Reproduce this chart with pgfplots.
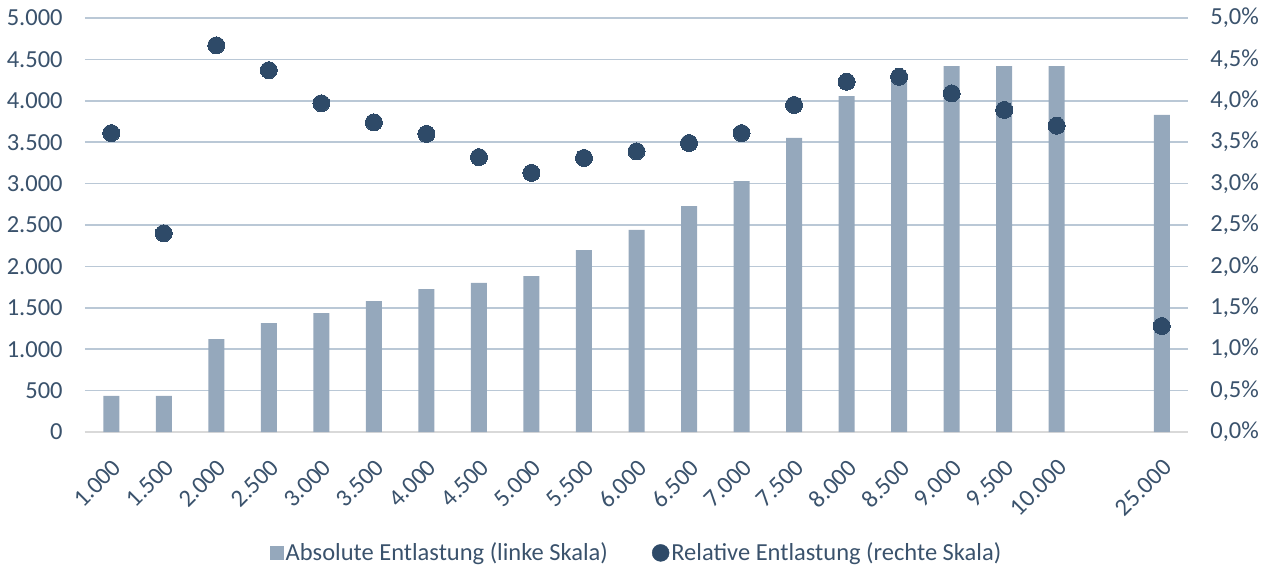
\documentclass[border=0pt]{standalone}
\usepackage{pgfplots}
\pgfplotsset{compat=1.18}
\usepackage{fontspec}
\setmainfont{Carlito}
\definecolor{barc}{RGB}{149,168,188}
\definecolor{dotc}{RGB}{46,74,104}
\definecolor{txtc}{RGB}{58,82,108}
\definecolor{gridc}{RGB}{186,200,214}
\definecolor{axc}{RGB}{217,217,217}
\begin{document}
\fontsize{24.5}{29}\selectfont
\begin{tikzpicture}
\useasboundingbox (-85pt,-139pt) rectangle (1186pt,432pt);
\pgfplotsset{
  every axis/.append style={
    font=\fontsize{24.5}{29}\selectfont,
    scale only axis, width=1103pt, height=414pt,
    at={(0,0)}, anchor=south west,
    xmin=-0.5, xmax=20.5,
    major tick length=0pt,
    tick label style={text=txtc},
  }
}
\begin{axis}[
  ymin=0, ymax=5000,
  ytick={0,500,...,5000},
  yticklabels={0,500,1.000,1.500,2.000,2.500,3.000,3.500,4.000,4.500,5.000},
  yticklabel style={xshift=-14pt},
  xtick={0,...,18,20},
  xticklabels={1.000,1.500,2.000,2.500,3.000,3.500,4.000,4.500,5.000,5.500,6.000,6.500,7.000,7.500,8.000,8.500,9.000,9.500,10.000,25.000},
  xticklabel style={rotate=45, anchor=north east, xshift=-10pt, yshift=-10pt},
  ymajorgrids, grid style={gridc, line width=1.6pt},
  axis x line*=bottom,
  x axis line style={axc, line width=1.8pt, -},
  y axis line style={draw=none},
  legend style={at={(0.5,-0.292)}, anchor=center, draw=none, fill=none,
    legend columns=2, text=txtc,
    /tikz/every even column/.append style={column sep=42pt},
    nodes={inner sep=2pt}},
  legend cell align=left,
]
\addplot[ybar, bar width=16pt, fill=barc, draw=none,
  legend image code/.code={\fill[barc] (0pt,-7pt) rectangle (14pt,7pt);}]
  coordinates {
  (0,435) (1,435) (2,1123) (3,1316) (4,1437) (5,1580) (6,1727) (7,1800) (8,1884)
  (9,2198) (10,2440) (11,2729) (12,3031) (13,3551) (14,4058) (15,4312)
  (16,4420) (17,4420) (18,4420) (20,3829)};
\addlegendentry{Absolute Entlastung (linke Skala)}
\addlegendimage{legend image code/.code={\fill[dotc] (5pt,0pt) circle (8.5pt);}}
\addlegendentry{Relative Entlastung (rechte Skala)}
\end{axis}
\begin{axis}[
  ymin=0, ymax=5,
  ytick={0,0.5,...,5},
  yticklabels={{0,0\%},{0,5\%},{1,0\%},{1,5\%},{2,0\%},{2,5\%},{3,0\%},{3,5\%},{4,0\%},{4,5\%},{5,0\%}},
  yticklabel style={anchor=west, xshift=14pt},
  axis x line=none,
  axis y line*=right,
  y axis line style={draw=none},
]
\addplot[only marks, mark=*, mark size=8.5pt, mark options={fill=dotc, draw=dotc, line width=0pt}]
  coordinates {
  (0,3.61) (1,2.40) (2,4.67) (3,4.37) (4,3.97) (5,3.74) (6,3.60) (7,3.32) (8,3.13)
  (9,3.31) (10,3.39) (11,3.49) (12,3.61) (13,3.95) (14,4.23) (15,4.29)
  (16,4.09) (17,3.89) (18,3.70) (20,1.28)};
\end{axis}
\end{tikzpicture}
\end{document}
